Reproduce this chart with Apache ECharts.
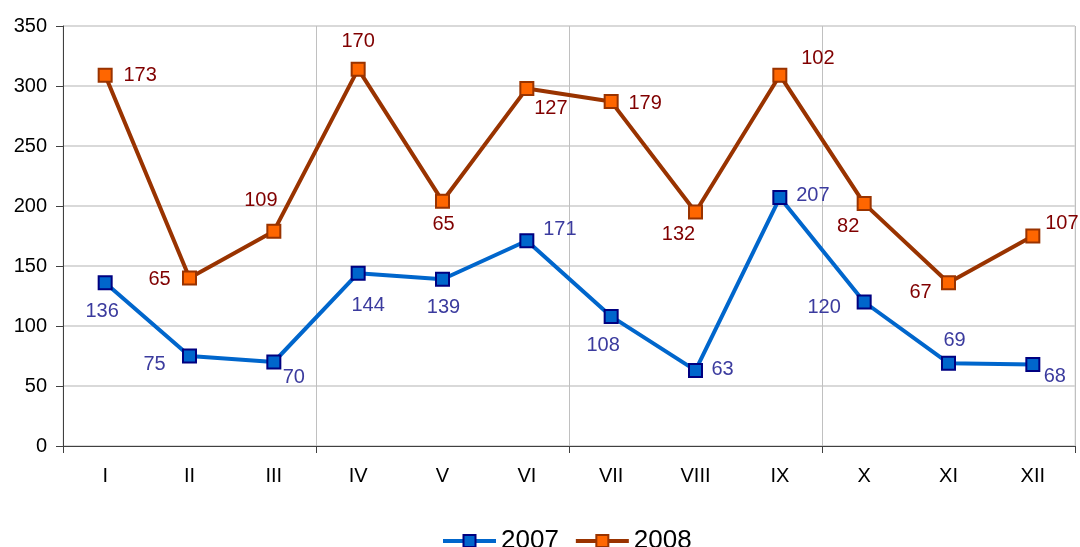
<!DOCTYPE html>
<html>
<head>
    <meta charset="utf-8" />
    <script src="https://cdn.jsdelivr.net/npm/echarts@6/dist/echarts.min.js"></script>
    <style>
        html, body { margin: 0; padding: 0; background: #fff; }
    </style>
</head>
<body>
    <div id="main" style="width:1080px;height:547px;"></div>
    <script>
        // months (roman numerals) and yearly values; 2008 is stacked on 2007
        var months = ['I', 'II', 'III', 'IV', 'V', 'VI', 'VII', 'VIII', 'IX', 'X', 'XI', 'XII'];
        var y2007 = [136, 75, 70, 144, 139, 171, 108, 63, 207, 120, 69, 68];
        var y2008 = [173, 65, 109, 170, 65, 127, 179, 132, 102, 82, 67, 107];

        // where each value label sits relative to its marker (px)
        var off2007 = [[-3, 29], [-35, 8], [20, 15], [10, 32], [1, 28], [33, -11],
                       [-8, 29], [27, -1], [33, -2], [-40, 5], [6, -23], [22, 12]];
        var off2008 = [[35, 0], [-30, 1], [-13, -31], [0, -28], [1, 23], [24, 20],
                       [34, 2], [-17, 22], [38, -17], [-16, 23], [-28, 10], [29, -13]];

        var font = 'Liberation Sans, Arial, sans-serif';

        function withLabels(vals, offs) {
            return vals.map(function (v, i) {
                return { value: v, label: { offset: offs[i] } };
            });
        }

        // every third month boundary gets a tick and a vertical grid line
        function everyThird(index) {
            return index % 3 === 0;
        }

        var myChart = echarts.init(document.getElementById('main'));

        var option = {
            animation: false,
            textStyle: { fontFamily: font },
            grid: { left: 63, right: 5, top: 26, bottom: 101, show: true, borderColor: '#dcdcdc', borderWidth: 1 },
            legend: {
                left: 436,
                top: 523,
                itemWidth: 53,
                itemHeight: 15,
                itemGap: 15,
                textStyle: { fontSize: 26, color: '#000', fontFamily: font },
                data: [
                    { name: '2007', itemStyle: { borderWidth: 2 }, lineStyle: { width: 4 } },
                    { name: '2008', itemStyle: { borderWidth: 2 }, lineStyle: { width: 4 } }
                ]
            },
            xAxis: {
                type: 'category',
                data: months,
                boundaryGap: true,
                axisLine: { lineStyle: { color: '#404040', width: 1 } },
                axisTick: { show: true, interval: everyThird, length: 7, lineStyle: { color: '#404040' } },
                axisLabel: { interval: 0, fontSize: 20, color: '#000', margin: 20 },
                splitLine: { show: true, interval: everyThird, lineStyle: { color: '#c0c0c0', width: 1 } }
            },
            yAxis: {
                type: 'value',
                min: 0,
                max: 350,
                interval: 50,
                axisLine: { show: true, lineStyle: { color: '#404040', width: 1 } },
                axisTick: { show: true, length: 7, lineStyle: { color: '#404040' } },
                axisLabel: { fontSize: 20, color: '#000', margin: 16 },
                splitLine: { show: true, lineStyle: { color: '#d9d9d9', width: 2 } }
            },
            series: [
                {
                    name: '2007',
                    type: 'line',
                    stack: 'total',
                    data: withLabels(y2007, off2007),
                    symbol: 'rect',
                    symbolSize: 13,
                    lineStyle: { color: '#0066cc', width: 4 },
                    itemStyle: { color: '#0066cc', borderColor: '#000080', borderWidth: 2 },
                    label: { show: true, position: 'inside', fontSize: 20, color: '#3b3b9e', fontFamily: font },
                    z: 3
                },
                {
                    name: '2008',
                    type: 'line',
                    stack: 'total',
                    data: withLabels(y2008, off2008),
                    symbol: 'rect',
                    symbolSize: 13,
                    lineStyle: { color: '#993300', width: 4 },
                    itemStyle: { color: '#ff6600', borderColor: '#993300', borderWidth: 2 },
                    label: { show: true, position: 'inside', fontSize: 20, color: '#800000', fontFamily: font },
                    z: 3
                }
            ]
        };

        myChart.setOption(option);
    </script>
</body>
</html>
